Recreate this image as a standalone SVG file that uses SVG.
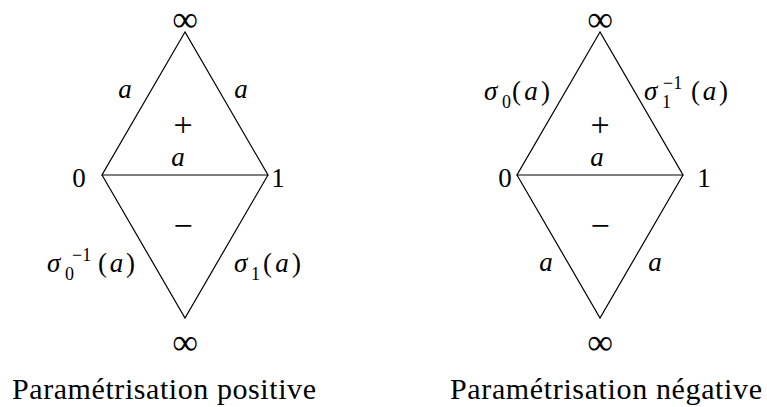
<svg xmlns="http://www.w3.org/2000/svg" width="767" height="407" viewBox="0 0 767 407">
<style>
text{font-family:'Liberation Serif','Times New Roman',Times,'DejaVu Serif',serif;fill:#000}
.t{font-size:27px}
.i{font-style:italic}
.s{font-size:18px}
.inf{font-size:36px}
.op{font-size:34px}
.m{text-anchor:middle}
.e{stroke:#000;stroke-width:1.2;fill:none;stroke-linejoin:miter}
.cap{font-size:30px;text-anchor:middle}
</style>
<rect width="767" height="407" fill="#fff"/>
<g id="connectors">
<path class="e" d="M185,32 L102,175 L268,175 Z M102,175 L185,318 L268,175"/>
<path class="e" d="M600,32 L517,175 L683,175 Z M517,175 L600,318 L683,175"/>
</g>
<g id="left-inf-top"><text class="t inf m" x="185" y="31">∞</text></g>
<g id="left-zero"><text class="t m" x="79" y="187">0</text></g>
<g id="left-one"><text class="t m" x="278" y="187">1</text></g>
<g id="left-inf-bottom"><text class="t inf m" x="185" y="354">∞</text></g>
<g id="left-labels">
<text class="t i m" x="125" y="98">a</text>
<text class="t i m" x="241" y="98">a</text>
<text class="t op m" x="183" y="136">+</text>
<text class="t i m" x="178" y="166">a</text>
<text class="t op m" x="183" y="237">−</text>
<text class="t i" x="47" y="272">σ</text><text class="t s" x="65" y="280">0</text><text class="t s" x="72" y="261">−1</text><text class="t" x="98" y="272" textLength="37">(<tspan class="i">a</tspan>)</text>
<text class="t i" x="234" y="272">σ</text><text class="t s" x="251" y="280">1</text><text class="t" x="263" y="272" textLength="38">(<tspan class="i">a</tspan>)</text>
</g>
<g id="right-inf-top"><text class="t inf m" x="600" y="31">∞</text></g>
<g id="right-zero"><text class="t m" x="505" y="187">0</text></g>
<g id="right-one"><text class="t m" x="704" y="187">1</text></g>
<g id="right-inf-bottom"><text class="t inf m" x="600" y="354">∞</text></g>
<g id="right-labels">
<text class="t i" x="484" y="100">σ</text><text class="t s" x="502" y="108">0</text><text class="t" x="512" y="100" textLength="38">(<tspan class="i">a</tspan>)</text>
<text class="t i" x="644" y="100">σ</text><text class="t s" x="662" y="108">1</text><text class="t s" x="663" y="89">−1</text><text class="t" x="691" y="100" textLength="37">(<tspan class="i">a</tspan>)</text>
<text class="t op m" x="600" y="136">+</text>
<text class="t i m" x="597" y="166">a</text>
<text class="t op m" x="600" y="237">−</text>
<text class="t i m" x="546" y="271">a</text>
<text class="t i m" x="655" y="271">a</text>
</g>
<g id="captions">
<text class="cap" x="164" y="399" textLength="304">Paramétrisation positive</text>
<text class="cap" x="606" y="399" textLength="312">Paramétrisation négative</text>
</g>
</svg>
